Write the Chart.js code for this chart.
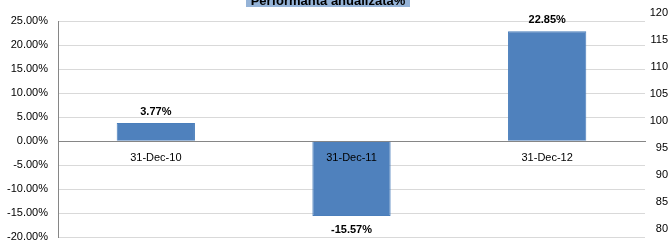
<!DOCTYPE html>
<html>
<head>
<meta charset="utf-8">
<script src="https://cdn.jsdelivr.net/npm/chart.js@4.4.1/dist/chart.umd.min.js"></script>
<style>
  html, body { margin: 0; padding: 0; background: #fff; overflow: hidden; }
  canvas { display: block; }
</style>
</head>
<body>
<canvas id="perfChart" width="668" height="254"></canvas>
<script>
const categories = ['31-Dec-10', '31-Dec-11', '31-Dec-12'];
const performance = [3.77, -15.57, 22.85];
const titleText = 'Performanta anualizata%';

const FONT = '"Liberation Sans", Arial, sans-serif';

// Excel-style bold value labels above / below each bar
const valueLabels = {
    id: 'valueLabels',
    afterDatasetsDraw(chart) {
        const ctx = chart.ctx;
        const meta = chart.getDatasetMeta(0);
        ctx.save();
        ctx.font = 'bold 11px ' + FONT;
        ctx.fillStyle = '#000';
        ctx.textAlign = 'center';
        ctx.textBaseline = 'middle';
        meta.data.forEach((bar, i) => {
            const v = performance[i];
            const y = v >= 0 ? bar.y - 11 : bar.y + 14;
            ctx.fillText(v.toFixed(2) + '%', bar.x, y);
        });
        ctx.restore();
    }
};

// title box, cut off at the top edge like the original
const titleBox = {
    id: 'titleBox',
    afterDraw(chart) {
        const ctx = chart.ctx;
        ctx.save();
        ctx.fillStyle = '#95B3D7';
        ctx.fillRect(246, 0, 164, 7);
        ctx.font = 'bold 13px ' + FONT;
        ctx.fillStyle = '#000';
        ctx.textAlign = 'center';
        ctx.textBaseline = 'alphabetic';
        ctx.fillText(titleText, 328, 5);
        ctx.restore();
    }
};

new Chart(document.getElementById('perfChart'), {
    type: 'bar',
    data: {
        labels: categories,
        datasets: [{
            data: performance,
            backgroundColor: '#4F81BD',
            borderColor: '#4A7EBB',
            borderWidth: 1,
            barPercentage: 0.4,
            categoryPercentage: 1
        }]
    },
    plugins: [valueLabels, titleBox],
    options: {
        responsive: false,
        animation: false,
        layout: { padding: { top: 21, bottom: 4, left: 0, right: 0 } },
        plugins: {
            legend: { display: false },
            tooltip: { enabled: false }
        },
        scales: {
            x: {
                position: { y: 0 },
                grid: { display: true, drawOnChartArea: false, drawTicks: false },
                border: { color: '#868686' },
                ticks: { z: 1, padding: 10, color: '#000', font: { family: FONT, size: 11 } }
            },
            y: {
                position: 'left',
                min: -20,
                max: 25,
                afterFit(scale) { scale.width = 58; },
                grid: {
                    drawTicks: false,
                    color: (c) => (c.tick && c.tick.value === 0) ? '#868686' : '#D9D9D9'
                },
                border: { color: '#868686' },
                ticks: {
                    stepSize: 5,
                    padding: 10,
                    color: '#000',
                    font: { family: FONT, size: 11 },
                    callback: (v) => v.toFixed(2) + '%'
                }
            },
            y2: {
                display: true,
                position: 'right',
                min: 80,
                max: 120,
                afterFit(scale) { scale.width = 23; },
                grid: { display: false, drawTicks: false },
                border: { display: false },
                ticks: {
                    stepSize: 5,
                    padding: 1,
                    labelOffset: -8,
                    crossAlign: 'far',
                    color: '#000',
                    font: { family: FONT, size: 11 }
                }
            }
        }
    }
});
</script>
</body>
</html>
